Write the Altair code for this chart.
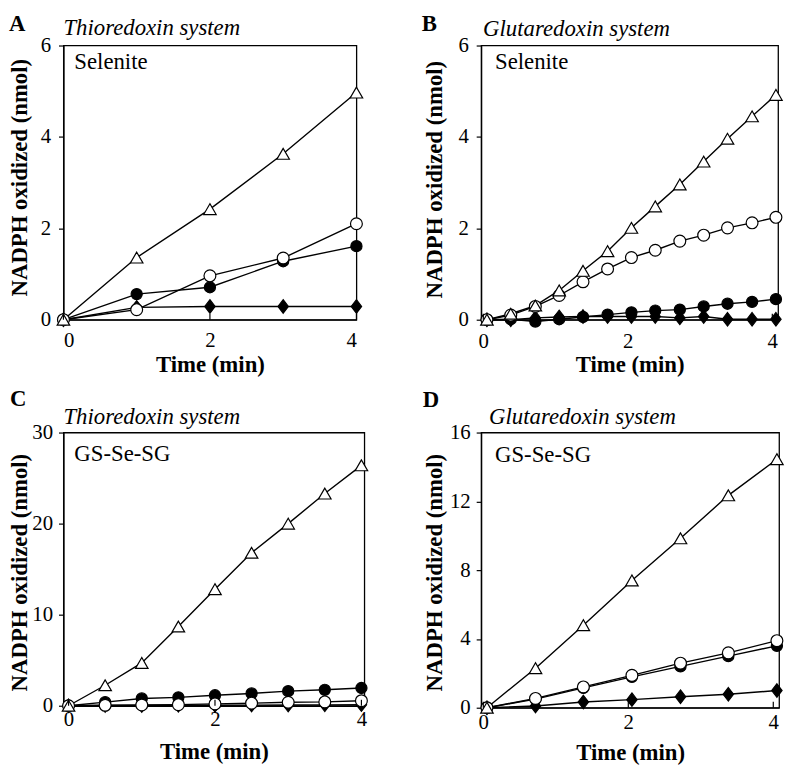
import altair as alt
import pandas as pd

FONT = "Liberation Serif"
SERIES = ["diamond", "closed", "open", "tri"]
SHAPES = ["M0,-1.3L1,0L0,1.3L-1,0Z", "circle", "circle", "triangle-up"]
FILLS = ["black", "black", "white", "white"]

# ---- Panel A: Thioredoxin system, Selenite
tA = [0, 1, 2, 3, 4]
triA = [0, 1.36, 2.42, 3.63, 4.97]
openA = [0, 0.22, 0.96, 1.35, 2.10]
closedA = [0, 0.56, 0.71, 1.28, 1.61]
diamA = [0, 0.27, 0.29, 0.29, 0.29]

# ---- Panel B: Glutaredoxin system, Selenite
tB = [0.05, 0.38, 0.72, 1.05, 1.38, 1.72, 2.05, 2.38, 2.72, 3.05, 3.38, 3.72, 4.05]
triB = [0, 0.13, 0.31, 0.64, 1.07, 1.50, 2.01, 2.48, 2.96, 3.46, 3.96, 4.45, 4.92]
openB = [0, 0.10, 0.29, 0.53, 0.83, 1.11, 1.36, 1.52, 1.72, 1.85, 2.01, 2.12, 2.24]
closedB = [0, 0.01, -0.04, 0.01, 0.06, 0.11, 0.16, 0.20, 0.22, 0.29, 0.35, 0.39, 0.45]
diamB = [0, 0.0, 0.04, 0.06, 0.07, 0.07, 0.07, 0.07, 0.04, 0.07, 0.01, 0.01, 0.01]

# ---- Panel C: Thioredoxin system, GS-Se-SG
tC = [0, 0.5, 1, 1.5, 2, 2.5, 3, 3.5, 4]
triC = [0, 2.25, 4.7, 8.7, 12.8, 16.8, 20.0, 23.3, 26.4]
openC = [0, 0.05, 0.08, 0.12, 0.20, 0.28, 0.38, 0.42, 0.55]
closedC = [0, 0.40, 0.80, 0.92, 1.15, 1.35, 1.60, 1.75, 1.95]
diamC = [0, 0.02, 0.03, 0.05, 0.05, 0.07, 0.08, 0.10, 0.12]

# ---- Panel D: Glutaredoxin system, GS-Se-SG
tD = [0.05, 0.72, 1.38, 2.05, 2.72, 3.38, 4.05]
triD = [0, 2.3, 4.8, 7.4, 9.85, 12.35, 14.45]
openD = [0, 0.54, 1.21, 1.88, 2.59, 3.19, 3.90]
closedD = [0, 0.50, 1.15, 1.79, 2.40, 3.00, 3.60]
diamD = [0, 0.10, 0.33, 0.47, 0.64, 0.78, 1.00]

X_TICKS = [0, 2, 4]


def panel(t, tri, opn, cls, dia, xdom, ydom, yticks, w, h, sizes,
          letter, letter_pos, subtitle, sub_pos, label, label_pos,
          ytitle_x, ytitle_y, xlab_pad, ylab_pad, xtitle_y):
    rows = []
    for name, vals in zip(SERIES, [dia, cls, opn, tri]):
        for ti, vi in zip(t, vals):
            rows.append({"t": ti, "v": vi, "s": name})
    df = pd.DataFrame(rows)

    X = alt.X("t:Q", scale=alt.Scale(domain=xdom, nice=False, zero=False),
              axis=alt.Axis(values=X_TICKS, title="Time (min)", ticks=False, tickSize=0,
                            labelPadding=xlab_pad, titleY=xtitle_y,
                            titleBaseline="alphabetic"))
    Y = alt.Y("v:Q", scale=alt.Scale(domain=ydom, nice=False, zero=False),
              axis=alt.Axis(values=yticks, title="NADPH oxidized (nmol)",
                            titleX=ytitle_x, titleY=ytitle_y, titleAngle=270,
                            titleAlign="center", titleBaseline="alphabetic",
                            labelPadding=ylab_pad, tickSize=5))

    lines = alt.Chart(df).mark_line(color="black", strokeWidth=1.4).encode(
        x=X, y=Y, detail="s:N")
    pts = alt.Chart(df).mark_point(filled=True, stroke="black", strokeWidth=1.2,
                                   opacity=1).encode(
        x=X, y=Y,
        shape=alt.Shape("s:N", scale=alt.Scale(domain=SERIES, range=SHAPES), legend=None),
        fill=alt.Fill("s:N", scale=alt.Scale(domain=SERIES, range=FILLS), legend=None),
        size=alt.Size("s:N", scale=alt.Scale(domain=SERIES, range=sizes), legend=None),
    )
    ticks = alt.Chart(pd.DataFrame({"t": X_TICKS})).mark_rule(
        color="black", strokeWidth=1.2).encode(
        x=X, y=alt.value(h), y2=alt.value(h - 6))

    def txt(s, pos, weight="normal", style="normal"):
        return alt.Chart(pd.DataFrame({"lab": [s]})).mark_text(
            font=FONT, fontSize=23, fontWeight=weight, fontStyle=style,
            align="left", baseline="alphabetic", color="black").encode(
            text="lab:N", x=alt.value(pos[0]), y=alt.value(pos[1]))

    return alt.layer(
        lines, pts, ticks,
        txt(letter, letter_pos, weight="bold"),
        txt(subtitle, sub_pos, style="italic"),
        txt(label, label_pos),
    ).properties(width=w, height=h)


A = panel(tA, triA, openA, closedA, diamA, [0, 4], [0, 6], [0, 2, 4, 6], 296, 277,
          [110, 160, 170, 256], "A", (-55, -15), "Thioredoxin system", (0, -11),
          "Selenite", (11, 24), -37, 133, 10, 8, 52)
B = panel(tB, triB, openB, closedB, diamB, [-0.03, 4.08], [0, 6], [0, 2, 4, 6], 300, 277,
          [70, 100, 100, 150], "B", (-60, -15), "Glutaredoxin system", (2, -10),
          "Selenite", (14, 24), -40, 135, 11, 8, 52)
C = panel(tC, triC, openC, closedC, diamC, [-0.07, 4.04], [0, 30], [0, 10, 20, 30], 304, 276,
          [90, 180, 180, 256], "C", (-54, -27), "Thioredoxin system", (0, -9),
          "GS-Se-SG", (11, 29), -37, 141, 3, 6, 53)
D = panel(tD, triD, openD, closedD, diamD, [-0.03, 4.08], [0, 16], [0, 4, 8, 12, 16], 301, 278,
          [90, 110, 110, 170], "D", (-59, -26), "Glutaredoxin system", (8, -9),
          "GS-Se-SG", (14, 30), -40, 141, 4, 6, 52)

chart = alt.concat(A, B, C, D, columns=2, spacing={"row": 114, "column": 118},
                   bounds="flush").properties(
    padding={"left": 0, "top": 0, "right": 0, "bottom": 0}
).configure(
    background="white", padding={"left": 0, "top": 0, "right": 0, "bottom": 0}
).configure_view(
    stroke="black", strokeWidth=1.3
).configure_axis(
    labelFont=FONT, labelFontSize=21, labelColor="black",
    titleFont=FONT, titleFontSize=23, titleFontWeight="bold", titleColor="black",
    domainColor="black", domainWidth=1.3, tickColor="black", tickWidth=1.2,
    grid=False
)

chart.save("out.html", embed_options={"renderer": "svg", "actions": False})
